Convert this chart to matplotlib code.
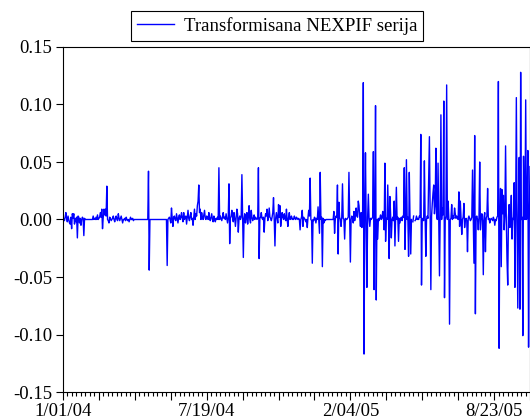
import numpy as np
import pandas as pd
import matplotlib
matplotlib.use('Agg')
import matplotlib.pyplot as plt
import matplotlib.dates as mdates
from matplotlib.ticker import FixedLocator, FuncFormatter, MultipleLocator

# daily observations starting 1 Jan 2004
start_date = '2004-01-01'
series_label = 'Transformisana NEXPIF serija'

# days 0-31
jan_2004 = [0.000, 0.001, -0.001, 0.002, 0.006, 0.001, -0.002, 0.003, 0.000, -0.003,
            -0.004, 0.002, -0.008, 0.005, 0.001, 0.005, -0.004, 0.001, -0.002, 0.002,
            -0.016, 0.003, 0.002, -0.003, 0.001, -0.005, 0.000, 0.002, 0.001, -0.014,
            0.001, 0.000]
# days 32-98
feb_apr_2004 = [0.0] * 10 + [
    0.003, 0.000, 0.001, 0.000, 0.002, 0.000, 0.004, 0.000, 0.001, 0.002,
    0.006, 0.002, 0.009, -0.008, 0.002, 0.009, 0.004, 0.009, 0.003, 0.029,
    0.000, -0.001, -0.003, 0.002, 0.001, -0.001, 0.000, 0.001, 0.003, 0.000,
    -0.002, 0.001, 0.003, 0.000, -0.001, 0.005, 0.001, -0.001, 0.001, 0.003,
    0.000, -0.003, 0.000, 0.000, 0.001, -0.001, 0.002, 0.000, -0.001, 0.000,
    -0.002, 0.000, 0.002, 0.000, 0.000, 0.001, -0.001]
# days 99-147 (mostly flat)
apr_may_2004 = [0.0] * 20 + [0.042, -0.044] + [0.0] * 24 + [-0.040, 0.000, 0.001]
# days 148-217
may_aug_2004 = [
    0.002, 0.000, -0.003, 0.010, 0.001, -0.006, 0.002, 0.003, 0.000, -0.001,
    0.005, 0.001, -0.003, 0.002, 0.004, 0.000, 0.002, 0.006, 0.001, -0.002,
    0.006, 0.000, 0.002, 0.003, -0.004, 0.002, 0.008, 0.001, -0.001, 0.003,
    0.006, 0.000, 0.001, -0.005, 0.002, 0.009, 0.000, 0.005, 0.003, 0.012,
    0.016, 0.030, 0.006, 0.009, 0.000, 0.006, 0.002, 0.000, 0.004, 0.008,
    0.001, 0.000, 0.003, 0.002, 0.000, 0.006, 0.001, -0.001, 0.002, 0.005,
    0.000, -0.002, 0.003, 0.000, -0.002, 0.001, 0.000, 0.002, 0.000, 0.045]
# days 218-327
aug_nov_2004 = [
    0.000, 0.003, 0.001, -0.001, 0.002, 0.006, 0.001, 0.002, 0.000, 0.005,
    0.001, -0.003, 0.002, 0.031, -0.021, 0.001, 0.003, 0.008, 0.002, -0.002,
    0.006, 0.001, -0.006, 0.002, 0.009, 0.005, -0.011, 0.001, 0.003, 0.000,
    0.002, 0.039, 0.000, -0.033, 0.001, 0.005, -0.003, 0.002, 0.006, -0.004,
    0.002, 0.012, 0.000, -0.003, 0.008, 0.002, -0.001, 0.001, 0.004, 0.000,
    0.002, 0.001, 0.000, 0.001, 0.045, -0.034, 0.001, 0.002, 0.006, 0.001,
    0.000, 0.002, -0.011, 0.001, 0.005, 0.003, 0.009, -0.001, 0.002, 0.010,
    0.002, 0.001, -0.001, 0.002, 0.006, 0.019, 0.000, -0.023, 0.001, 0.006,
    0.001, -0.003, 0.013, 0.002, 0.012, -0.006, 0.001, 0.006, 0.002, 0.000,
    0.005, 0.001, -0.001, 0.009, 0.000, -0.006, 0.002, 0.006, 0.000, 0.001,
    0.003, 0.000, 0.001, 0.000, 0.003, 0.001, 0.000, 0.002, 0.001, 0.000]
# days 328-436
nov_2004_mar_2005 = [
    0.001, 0.000, -0.009, 0.000, 0.002, 0.008, -0.006, 0.002, 0.001, 0.000,
    -0.002, 0.000, -0.007, 0.002, 0.008, 0.003, 0.036, 0.000, -0.001, -0.038,
    0.000, -0.001, 0.002, 0.001, -0.003, 0.001, 0.000, 0.011, 0.000, -0.012,
    0.041, 0.000, 0.002, -0.041, 0.001, -0.003, 0.000, -0.001] + [0.0] * 11 + [
    0.007, -0.012, 0.000, 0.003, 0.002, 0.030, -0.030, 0.015, 0.002, 0.000,
    -0.006, 0.002, 0.031, 0.001, 0.000, -0.017, 0.001, 0.000, 0.000, 0.001,
    0.002, 0.041, 0.000, -0.037, 0.000, 0.003, 0.001, -0.003, 0.007, -0.001,
    0.004, 0.010, 0.003, 0.002, 0.016, 0.012, 0.002, -0.006, 0.006, -0.007,
    0.002, 0.119, -0.117, 0.002, 0.058, -0.006, -0.059, 0.002, 0.022, 0.001,
    -0.006, 0.001, 0.000, 0.001, 0.002, 0.059, -0.061, 0.002, 0.099, -0.070]
# days 437-545
mar_jun_2005 = [
    0.000, -0.017, 0.001, -0.001, 0.001, 0.004, 0.000, 0.001, 0.007, 0.002,
    -0.009, 0.049, -0.019, 0.001, 0.000, 0.030, 0.002, -0.034, 0.020, 0.004,
    -0.016, 0.000, 0.002, -0.001, 0.016, -0.023, 0.004, 0.028, 0.000, 0.002,
    -0.019, 0.001, -0.003, 0.001, 0.002, -0.001, 0.003, 0.002, 0.045, -0.026,
    0.003, 0.052, 0.000, 0.002, -0.032, 0.041, 0.000, -0.030, 0.000, np.nan,
    -0.002, 0.003, np.nan, -0.001, 0.000, 0.003, 0.000, 0.001, 0.000, 0.003,
    0.002, 0.074, -0.057, 0.001, 0.000, -0.001, 0.051, 0.003, -0.032, 0.000,
    0.003, 0.001, 0.038, 0.072, 0.002, -0.061, 0.003, 0.014, 0.023, 0.030,
    0.005, 0.012, 0.062, 0.004, 0.000, 0.049, 0.002, -0.049, 0.003, 0.091,
    0.000, 0.010, 0.004, 0.103, -0.068, 0.000, 0.003, 0.117, 0.000, 0.016,
    0.002, -0.091, 0.000, 0.001, 0.013, 0.000, 0.003, 0.001, 0.010]
# days 546-650
jun_oct_2005 = [
    0.005, 0.001, 0.003, 0.002, 0.000, 0.024, -0.006, 0.016, 0.002, -0.013,
    0.000, 0.002, 0.014, -0.007, 0.000, 0.001, -0.001, -0.028, 0.001, 0.003,
    0.001, -0.001, 0.000, 0.002, 0.043, 0.000, -0.038, 0.073, -0.082, 0.002,
    0.003, 0.000, -0.009, 0.002, 0.050, -0.009, 0.001, 0.005, -0.001, -0.048,
    0.002, 0.006, -0.028, 0.001, 0.003, 0.027, 0.000, 0.001, -0.003, 0.000,
    0.001, 0.000, -0.001, 0.002, 0.000, -0.005, 0.000, -0.001, 0.002, 0.003,
    0.120, -0.112, 0.001, 0.027, -0.041, 0.026, 0.005, 0.021, -0.009, 0.003,
    0.064, 0.000, -0.035, -0.057, 0.002, 0.013, -0.007, 0.003, 0.021, -0.017,
    0.001, 0.000, 0.032, -0.059, 0.003, 0.106, 0.000, -0.077, 0.002, 0.054,
    -0.078, 0.128, 0.000, 0.002, -0.101, 0.055, 0.001, 0.000, 0.104, 0.000,
    0.002, 0.060, -0.111, 0.003, 0.046]

values = (jan_2004 + feb_apr_2004 + apr_may_2004 + may_aug_2004 + aug_nov_2004
          + nov_2004_mar_2005 + mar_jun_2005 + jun_oct_2005)
dates = pd.date_range(start_date, periods=len(values), freq='D')

plt.rcParams['font.family'] = ['Liberation Serif', 'DejaVu Serif']
plt.rcParams['font.size'] = 13.5

W, H = 530, 419
fig = plt.figure(figsize=(W / 100, H / 100), dpi=100)
ax = fig.add_axes([63 / W, 27 / H, (W - 63) / W, 345 / H])

ax.plot(dates, values, color='#0000ff', lw=1.0, label=series_label)

x0 = mdates.date2num(dates[0])
x1 = mdates.date2num(dates[-1])
ax.set_xlim(x0, x1)
ax.set_ylim(-0.15, 0.15)

ax.yaxis.set_major_locator(MultipleLocator(0.05))
ax.yaxis.set_major_formatter(FuncFormatter(lambda v, p: '0.00' if abs(v) < 1e-9 else f'{v:.2f}'))

ax.xaxis.set_major_locator(FixedLocator([x0 + 50 * k for k in range(14)]))
ax.xaxis.set_minor_locator(FixedLocator(np.arange(x0, x1 + 0.5, 6.25)))


def date_label(v, pos):
    if round(v - x0) % 200:
        return ''
    d = mdates.num2date(v)
    return f'{d.month}/{d.day:02d}/{d:%y}'


ax.xaxis.set_major_formatter(FuncFormatter(date_label))

ax.tick_params(axis='x', which='major', length=6, width=0.8, pad=2, top=False)
ax.tick_params(axis='x', which='minor', length=3, width=0.8, top=False)
ax.tick_params(axis='y', length=5, width=0.8, pad=3, right=False)
for s in ax.spines.values():
    s.set_linewidth(0.8)

leg = ax.legend(loc='center', bbox_to_anchor=(277 / W, 1 - 26 / H),
                bbox_transform=fig.transFigure, fancybox=False, edgecolor='black',
                framealpha=1, handlelength=2.0, handletextpad=0.5, borderpad=0.3)
leg.get_frame().set_linewidth(0.8)

fig.savefig('out.png', dpi=100)
